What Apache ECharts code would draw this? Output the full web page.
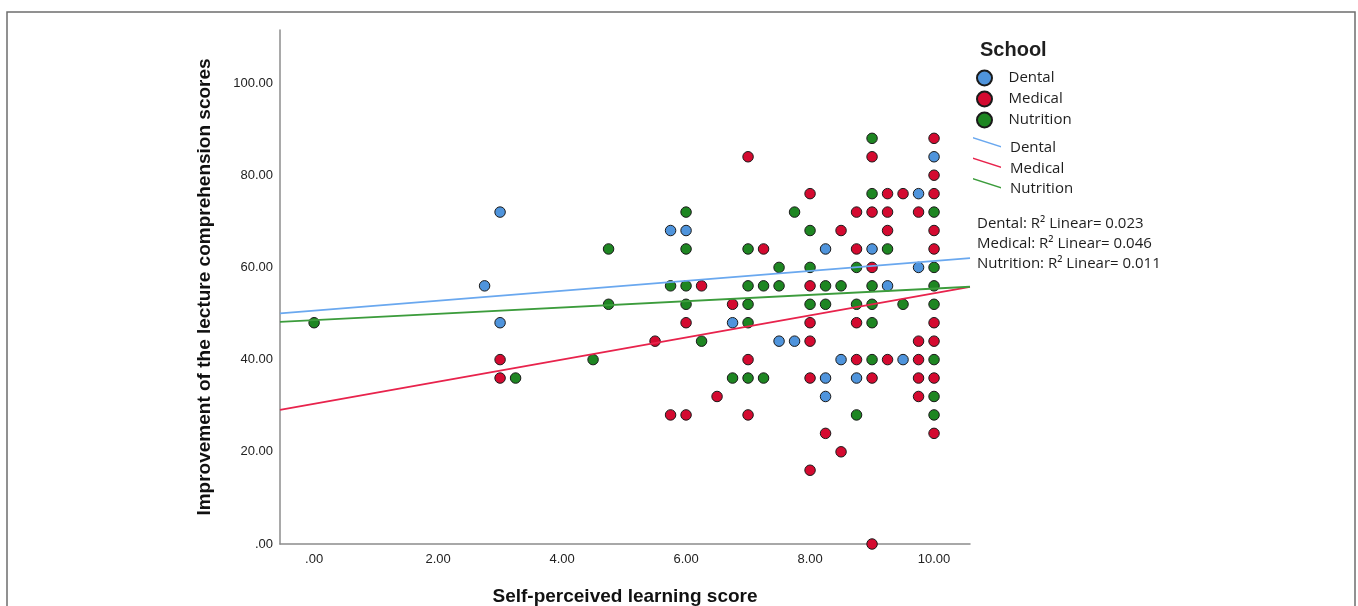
<!DOCTYPE html>
<html>
<head>
<meta charset="utf-8">
<script src="https://cdn.jsdelivr.net/npm/echarts@6/dist/echarts.min.js"></script>
<style>
  html, body { margin: 0; padding: 0; background: #ffffff; }
  #chart { width: 1358px; height: 606px; }
</style>
</head>
<body>
<div id="chart"></div>
<script>
// Groups
const schools = ['Dental', 'Medical', 'Nutrition'];

// [self-perceived learning score, improvement of lecture comprehension score]
const dentalPoints = [
  [10, 84], [9.75, 76], [3, 72], [5.75, 68], [6, 68], [8.25, 64], [9, 64],
  [9.75, 60], [2.75, 56], [9.25, 56], [3, 48], [6.75, 48], [7.5, 44], [7.75, 44],
  [8.5, 40], [9.5, 40], [8.25, 36], [8.75, 36], [8.25, 32]
];
const medicalPoints = [
  [10, 88], [7, 84], [9, 84], [10, 80], [8, 76], [9.25, 76], [9.5, 76], [10, 76],
  [8.75, 72], [9, 72], [9.25, 72], [9.75, 72], [8.5, 68], [9.25, 68], [10, 68],
  [7.25, 64], [8.75, 64], [10, 64], [9, 60], [6.25, 56], [8, 56], [6.75, 52],
  [6, 48], [8, 48], [8.75, 48], [10, 48], [5.5, 44], [8, 44], [9.75, 44], [10, 44],
  [3, 40], [7, 40], [8.75, 40], [9.25, 40], [9.75, 40], [3, 36], [8, 36], [9, 36],
  [9.75, 36], [10, 36], [6.5, 32], [9.75, 32], [5.75, 28], [6, 28], [7, 28],
  [8.25, 24], [10, 24], [8.5, 20], [8, 16], [9, 0]
];
const nutritionPoints = [
  [9, 88], [9, 76], [6, 72], [7.75, 72], [10, 72], [8, 68], [4.75, 64], [6, 64],
  [7, 64], [9.25, 64], [7.5, 60], [8, 60], [8.75, 60], [10, 60], [5.75, 56], [6, 56],
  [7, 56], [7.25, 56], [7.5, 56], [8.25, 56], [8.5, 56], [9, 56], [10, 56],
  [4.75, 52], [6, 52], [7, 52], [8, 52], [8.25, 52], [8.75, 52], [9, 52], [9.5, 52],
  [10, 52], [0, 48], [7, 48], [9, 48], [6.25, 44], [4.5, 40], [9, 40], [10, 40],
  [3.25, 36], [6.75, 36], [7, 36], [7.25, 36], [10, 32], [8.75, 28], [10, 28]
];

// Linear fit per group: y = intercept + slope * x
const fitIntercepts = [50.6, 30.4, 48.58];
const fitSlopes = [1.078, 2.40, 0.683];
const r2Linear = [0.023, 0.046, 0.011];

// Axis ticks and ranges
const xTickValues = [0, 2, 4, 6, 8, 10];
const yTickValues = [0, 20, 40, 60, 80, 100];
const xRange = [-0.55, 10.58];
const yRange = [0, 111.5];

const pointColors = ['#4f94dc', '#d40a30', '#1e8622'];
const lineColors = ['#6aa8ef', '#e8234c', '#3c9c3c'];
const groupPoints = [dentalPoints, medicalPoints, nutritionPoints];
const lineNames = schools.map(s => s + ' fit');

const tickFormat = v => (v === 0 ? '.00' : v.toFixed(2));
const axisFont = 'Liberation Sans, Arial, sans-serif';
const legendFont = 'Open Sans, sans-serif';

const scatterSeries = schools.map((name, i) => ({
  name: name,
  type: 'scatter',
  data: groupPoints[i],
  symbol: 'circle',
  symbolSize: 10.5,
  z: 2,
  itemStyle: { color: pointColors[i], borderColor: '#1a1a1a', borderWidth: 1, opacity: 1 },
  emphasis: { disabled: true }
}));

const fitSeries = schools.map((name, i) => ({
  name: lineNames[i],
  type: 'line',
  data: xRange.map(x => [x, fitIntercepts[i] + fitSlopes[i] * x]),
  symbol: 'none',
  showSymbol: false,
  z: 3,
  itemStyle: { color: lineColors[i] },
  lineStyle: { color: lineColors[i], width: 1.8 },
  emphasis: { disabled: true }
}));

const chart = echarts.init(document.getElementById('chart'), null, { renderer: 'canvas' });
chart.setOption({
  animation: false,
  backgroundColor: '#ffffff',
  title: [
    {
      text: 'School', left: 980, top: 40, padding: 0,
      textStyle: { fontFamily: axisFont, fontWeight: 'bold', fontSize: 20, color: '#1e1e1e' }
    },
    {
      text: schools.map((s, i) => s + ': R\u00B2 Linear= ' + r2Linear[i].toFixed(3)).join('\n'),
      left: 977, top: 214, padding: 0,
      textStyle: { fontFamily: legendFont, fontWeight: 'normal', fontSize: 15, lineHeight: 20, color: '#1e1e1e' }
    }
  ],
  legend: [
    {
      data: schools,
      orient: 'vertical',
      left: 976, top: 69, padding: 0,
      itemWidth: 24, itemHeight: 15, itemGap: 3,
      icon: 'circle',
      selectedMode: false,
      textStyle: { fontFamily: legendFont, fontSize: 15, lineHeight: 15, color: '#1e1e1e', padding: [0, 0, 3, 7] }
    },
    {
      data: lineNames,
      orient: 'vertical',
      left: 973, top: 137, padding: 0,
      itemWidth: 28, itemHeight: 22, itemGap: -1.5,
      icon: 'path://M0,0L28,9L28,10.4L0,1.4Z M28,22',
      selectedMode: false,
      formatter: name => name.replace(' fit', ''),
      textStyle: { fontFamily: legendFont, fontSize: 15, lineHeight: 16, color: '#1e1e1e', padding: [0, 0, 0, 4] }
    }
  ],
  grid: { left: 280, right: 388, top: 30, bottom: 62, containLabel: false, outerBoundsMode: 'none' },
  xAxis: {
    type: 'value',
    min: xRange[0], max: xRange[1],
    name: 'Self-perceived learning score',
    nameLocation: 'middle', nameGap: 43,
    nameTextStyle: { fontFamily: axisFont, fontWeight: 'bold', fontSize: 19, color: '#111111' },
    axisLine: { show: true, onZero: false, lineStyle: { color: '#8c8c8c', width: 1.5 } },
    axisTick: { show: false },
    splitLine: { show: false },
    axisLabel: {
      customValues: xTickValues, formatter: tickFormat, margin: 9,
      fontFamily: axisFont, fontSize: 13, color: '#222222'
    }
  },
  yAxis: {
    type: 'value',
    min: yRange[0], max: yRange[1],
    name: 'Improvement of the lecture comprehension scores',
    nameLocation: 'middle', nameGap: 66,
    nameTextStyle: { fontFamily: axisFont, fontWeight: 'bold', fontSize: 19, color: '#111111' },
    axisLine: { show: true, onZero: false, lineStyle: { color: '#8c8c8c', width: 1.5 } },
    axisTick: { show: false },
    splitLine: { show: false },
    axisLabel: {
      customValues: yTickValues, formatter: tickFormat, margin: 7,
      fontFamily: axisFont, fontSize: 13, color: '#222222'
    }
  },
  graphic: [
    {
      type: 'rect', silent: true, z: 0,
      shape: { x: 7, y: 12, width: 1348, height: 640 },
      style: { fill: 'none', stroke: '#6e6e6e', lineWidth: 1.5 }
    }
  ],
  series: scatterSeries.concat(fitSeries)
});
</script>
</body>
</html>
